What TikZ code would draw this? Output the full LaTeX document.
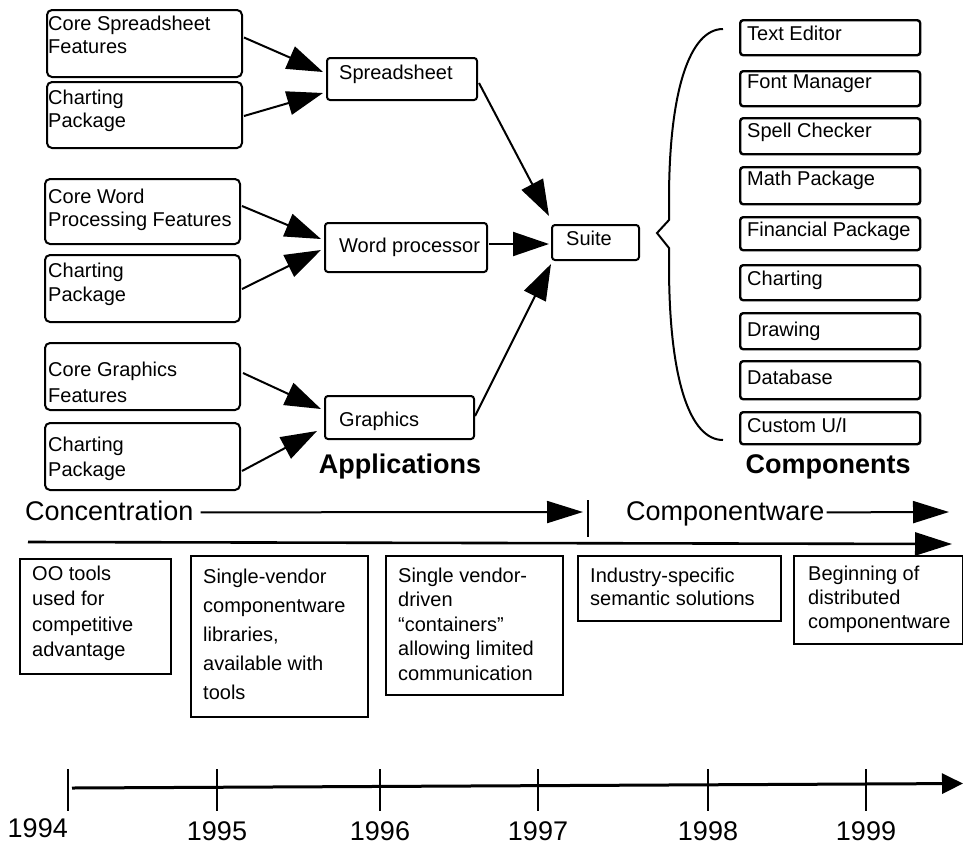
\documentclass[tikz,border=0pt]{standalone}
\usepackage{fontspec}
\setmainfont{Liberation Sans}
\usetikzlibrary{arrows.meta,calc}

% multi-line box text; the optional argument is the line spacing
\newcommand\boxlines[2][24]{\parbox[t]{230pt}{\fontsize{20}{#1}\selectfont #2}}

\begin{document}
\begin{tikzpicture}[x=1pt,y=-1pt,
  featbox/.style={draw, line width=2pt, rounded corners=5pt, anchor=north west,
                  inner sep=0pt, minimum width=195pt},
  appbox/.style={draw, line width=2pt, rounded corners=3pt, anchor=north west, inner sep=0pt},
  compbox/.style={draw, line width=2.4pt, rounded corners=3pt, anchor=north west,
                  inner sep=0pt, minimum width=180pt},
  erabox/.style={draw, line width=2.4pt, anchor=north west, inner sep=0pt},
  boxtext/.style={anchor=base west, inner sep=0pt},
  feed/.style={line width=2pt, -{Triangle[length=36pt,width=24pt]}},
  headline/.style={anchor=base, inner sep=0pt, font=\bfseries\fontsize{27}{32}\selectfont},
  eratext/.style={anchor=base west, inner sep=0pt, font=\fontsize{27}{32}\selectfont},
  eraarrow/.style={line width=2pt, -{Triangle[length=36pt,width=22pt]}},
  spanarrow/.style={line width=2.6pt, -{Triangle[length=37pt,width=23pt]}},
  axisline/.style={line width=3pt, -{Triangle[length=21pt,width=20pt]}},
  tickline/.style={line width=2pt},
  yearlabel/.style={anchor=base, inner sep=0pt, font=\fontsize{27}{32}\selectfont}
]
\useasboundingbox (0,0) rectangle (963,844);

% ---------- feature boxes ----------
\node[featbox, minimum height=67pt] (cs) at (46,9) {};
\node[boxtext] (cs-t) at ($(cs.north west)+(2,21)$) {\boxlines[23]{Core Spreadsheet\\Features}};
\node[featbox, minimum height=66pt] (cp1) at (46,81) {};
\node[boxtext] (cp1-t) at ($(cp1.north west)+(2,23)$) {\boxlines[23]{Charting\\Package}};

\node[featbox, minimum height=65pt] (cw) at (44,178) {};
\node[boxtext] (cw-t) at ($(cw.north west)+(4,25)$) {\boxlines[23]{Core Word\\Processing Features}};
\node[featbox, minimum height=67pt] (cp2) at (44,254) {};
\node[boxtext] (cp2-t) at ($(cp2.north west)+(4,23)$) {\boxlines[24]{Charting\\Package}};

\node[featbox, minimum height=67pt] (cg) at (44,342) {};
\node[boxtext] (cg-t) at ($(cg.north west)+(4,34)$) {\boxlines[26]{Core Graphics\\Features}};
\node[featbox, minimum height=67pt] (cp3) at (44,422) {};
\node[boxtext] (cp3-t) at ($(cp3.north west)+(4,29)$) {\boxlines[25]{Charting\\Package}};

% ---------- application boxes ----------
\node[appbox, minimum width=150pt, minimum height=42pt] (ss) at (326,57) {};
\node[boxtext] (ss-t) at ($(ss.north west)+(13,22)$) {\boxlines{Spreadsheet}};
\node[appbox, minimum width=162pt, minimum height=49pt] (wp) at (324,222) {};
\node[boxtext] (wp-t) at ($(wp.north west)+(15,30.5)$) {\boxlines{Word processor}};
\node[appbox, minimum width=149pt, minimum height=43pt] (gr) at (324,395) {};
\node[boxtext] (gr-t) at ($(gr.north west)+(15,31)$) {\boxlines{Graphics}};

\node[appbox, minimum width=87pt, minimum height=35pt] (suite) at (551,224) {};
\node[boxtext] (suite-t) at ($(suite.north west)+(15,21.5)$) {\boxlines{Suite}};

\node[headline] (apps) at (400,473) {Applications};

% ---------- feature -> application -> suite ----------
\draw[feed] ($(cs.east)+(1,-6)$)  -- ($(ss.west)+(-3,-7)$);
\draw[feed] ($(cp1.east)+(1,1)$)  -- ($(ss.west)+(-3,14)$);
\draw[feed] ($(cw.east)+(1,-5.5)$) -- ($(wp.west)+(-3,-8.5)$);
\draw[feed] ($(cp2.east)+(1,0.5)$) -- ($(wp.west)+(-3,2.5)$);
\draw[feed] ($(cg.east)+(2,-3.5)$) -- ($(gr.west)+(-3,-8.5)$);
\draw[feed] ($(cp3.east)+(1,14.5)$) -- ($(gr.west)+(-7,13.5)$);

\draw[feed] ($(ss.east)+(1,4)$)    -- ($(suite.north west)+(-2,-8)$);
\draw[feed] ($(wp.east)+(1,-3.5)$) -- ($(suite.west)+(-2,1.5)$);
\draw[feed] ($(gr.east)+(0,-1.5)$) -- ($(suite.south west)+(0,3)$);

% ---------- brace ----------
\draw[line width=2pt, line join=miter]
  (723,29) .. controls (690,29) and (669,90) .. (669,200)
  -- (669,220) -- (657,233) -- (669,248) -- (669,265)
  .. controls (669,380) and (690,440) .. (723,440);

% ---------- components ----------
\node[compbox, minimum height=35pt] (te) at (739,19) {};
\node[boxtext] (te-t) at ($(te.north west)+(8,21.7)$) {\boxlines{Text Editor}};
\node[compbox, minimum height=35pt] (fm) at (739,70) {};
\node[boxtext] (fm-t) at ($(fm.north west)+(8,18)$) {\boxlines{Font Manager}};
\node[compbox, minimum height=36pt] (sc) at (739,117) {};
\node[boxtext] (sc-t) at ($(sc.north west)+(8,20.7)$) {\boxlines{Spell Checker}};
\node[compbox, minimum height=37pt] (mp) at (739,166) {};
\node[boxtext] (mp-t) at ($(mp.north west)+(8,19.7)$) {\boxlines{Math Package}};
\node[compbox, minimum height=33pt] (fp) at (739,216) {};
\node[boxtext] (fp-t) at ($(fp.north west)+(8,20.7)$) {\boxlines{Financial Package}};
\node[compbox, minimum height=35pt] (ch) at (739,264) {};
\node[boxtext] (ch-t) at ($(ch.north west)+(8,21)$) {\boxlines{Charting}};
\node[compbox, minimum height=36pt] (dr) at (739,312) {};
\node[boxtext] (dr-t) at ($(dr.north west)+(8,24)$) {\boxlines{Drawing}};
\node[compbox, minimum height=38pt] (db) at (739,360) {};
\node[boxtext] (db-t) at ($(db.north west)+(8,24)$) {\boxlines{Database}};
\node[compbox, minimum height=32pt] (cu) at (739,411) {};
\node[boxtext] (cu-t) at ($(cu.north west)+(8,21)$) {\boxlines{Custom U/I}};

\node[headline] (comps) at (828,473) {Components};

% ---------- eras ----------
\node[eratext] (conc) at (25,520) {Concentration};
\coordinate (concend) at (583,512);
\draw[eraarrow] ($(conc.east)+(7,2)$) -- (concend);

\coordinate (splittop) at (588,500);
\coordinate (splitbot) at (588,537);
\draw[tickline] (splittop) -- (splitbot);

\node[eratext] (compware) at (626,520) {Componentware};
\coordinate (compend) at (949,512);
\draw[eraarrow] ($(compware.east)+(2,-1)$) -- (compend);

\coordinate (spanstart) at (28,542);
\coordinate (spanend) at (952,544);
\draw[spanarrow] (spanstart) -- (spanend);

% ---------- era descriptions ----------
\node[erabox, minimum width=151pt, minimum height=115pt] (b1) at (19,558) {};
\node[boxtext] (b1-t) at ($(b1.north west)+(13,22)$)
  {\boxlines[25.5]{OO tools\\used for\\competitive\\advantage}};
\node[erabox, minimum width=177pt, minimum height=161pt] (b2) at (190,555) {};
\node[boxtext] (b2-t) at ($(b2.north west)+(13,28)$)
  {\boxlines[29]{Single-vendor\\componentware\\libraries,\\available with\\tools}};
\node[erabox, minimum width=177pt, minimum height=139pt] (b3) at (385,555) {};
\node[boxtext] (b3-t) at ($(b3.north west)+(13,27)$)
  {\boxlines[24.5]{Single vendor-\\driven\\“containers”\\allowing limited\\communication}};
\node[erabox, minimum width=203pt, minimum height=65pt] (b4) at (577,555) {};
\node[boxtext] (b4-t) at ($(b4.north west)+(13,27)$)
  {\boxlines[23]{Industry-specific\\semantic solutions}};
\node[erabox, minimum width=169pt, minimum height=88pt] (b5) at (793,555) {};
\node[boxtext] (b5-t) at ($(b5.north west)+(15,25)$)
  {\boxlines[24]{Beginning of\\distributed\\componentware}};

% ---------- year axis ----------
\coordinate (axstart) at (72,788);
\coordinate (axend) at (963,783.5);
\draw[axisline] (axstart) -- (axend);
\foreach \yr/\xx in {1994/68,1995/217,1996/380,1997/538,1998/708,1999/866}{
  \coordinate (tick\yr) at (\xx,769);
  \draw[tickline] (tick\yr) -- (\xx,811);
}
\node[yearlabel, anchor=base east] (y1994) at (68,837) {1994};
\foreach \yr/\xx in {1995/217,1996/380,1997/538,1998/708,1999/866}{
  \node[yearlabel] (y\yr) at (\xx,840) {\yr};
}
\end{tikzpicture}
\end{document}
